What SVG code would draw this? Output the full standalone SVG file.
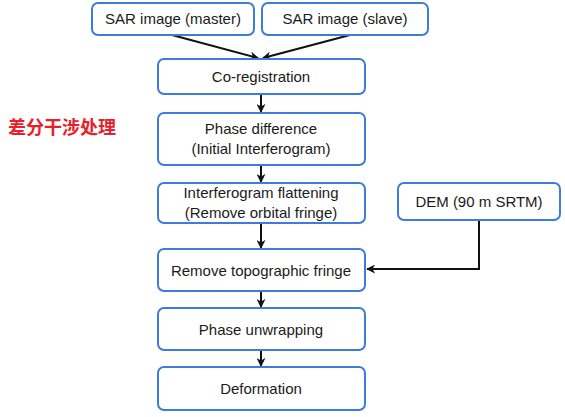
<svg xmlns="http://www.w3.org/2000/svg" width="565" height="417" viewBox="0 0 565 417">
<defs>
<style>
.box{fill:#fff;stroke:#3d7be0;stroke-width:2}
.t{font-family:"Liberation Sans",Arial,sans-serif;font-size:15px;fill:#1a1a1a;text-anchor:middle}
.c{stroke:#111;stroke-width:2;fill:none}
</style>
<marker id="ah" viewBox="0 0 10 10" refX="9" refY="5" markerWidth="9" markerHeight="9" orient="auto" markerUnits="userSpaceOnUse">
<path d="M0,0 L10,5 L0,10 L3,5 Z" fill="#111"/>
</marker>
</defs>
<rect width="565" height="417" fill="#fff"/>
<text x="8" y="134" font-family="'Noto Sans CJK SC',sans-serif" font-size="18" font-weight="bold" fill="#e8202a">差分干涉处理</text>
<g id="connectors">
<line class="c" x1="172" y1="35" x2="258" y2="58" marker-end="url(#ah)"/>
<line class="c" x1="350" y1="35" x2="263" y2="58" marker-end="url(#ah)"/>
<line class="c" x1="261" y1="95" x2="261" y2="112" marker-end="url(#ah)"/>
<line class="c" x1="261" y1="165" x2="261" y2="182" marker-end="url(#ah)"/>
<line class="c" x1="261" y1="223" x2="261" y2="248" marker-end="url(#ah)"/>
<line class="c" x1="261" y1="291" x2="261" y2="307" marker-end="url(#ah)"/>
<line class="c" x1="261" y1="350" x2="261" y2="366" marker-end="url(#ah)"/>
<polyline class="c" points="479,220 479,269 367,269" marker-end="url(#ah)"/>
</g>
<g id="master"><rect class="box" x="92" y="3" width="162" height="32" rx="6"/><text class="t" x="173" y="24">SAR image (master)</text></g>
<g id="slave"><rect class="box" x="262" y="3" width="166" height="32" rx="6"/><text class="t" x="345" y="24">SAR image (slave)</text></g>
<g id="coreg"><rect class="box" x="158" y="59" width="207" height="35" rx="6"/><text class="t" x="261" y="82">Co-registration</text></g>
<g id="phasediff"><rect class="box" x="158" y="113" width="207" height="52" rx="6"/><text class="t" x="261" y="134">Phase difference</text><text class="t" x="261" y="154">(Initial Interferogram)</text></g>
<g id="flatten"><rect class="box" x="158" y="183" width="207" height="40" rx="6"/><text class="t" x="261" y="198">Interferogram flattening</text><text class="t" x="261" y="218">(Remove orbital fringe)</text></g>
<g id="dem"><rect class="box" x="398" y="183" width="162" height="37" rx="6"/><text class="t" x="479" y="207">DEM (90 m SRTM)</text></g>
<g id="topo"><rect class="box" x="158" y="249" width="207" height="42" rx="6"/><text class="t" x="261" y="276">Remove topographic fringe</text></g>
<g id="unwrap"><rect class="box" x="158" y="308" width="207" height="42" rx="6"/><text class="t" x="261" y="335">Phase unwrapping</text></g>
<g id="deform"><rect class="box" x="158" y="367" width="207" height="43" rx="6"/><text class="t" x="261" y="394">Deformation</text></g>
</svg>
